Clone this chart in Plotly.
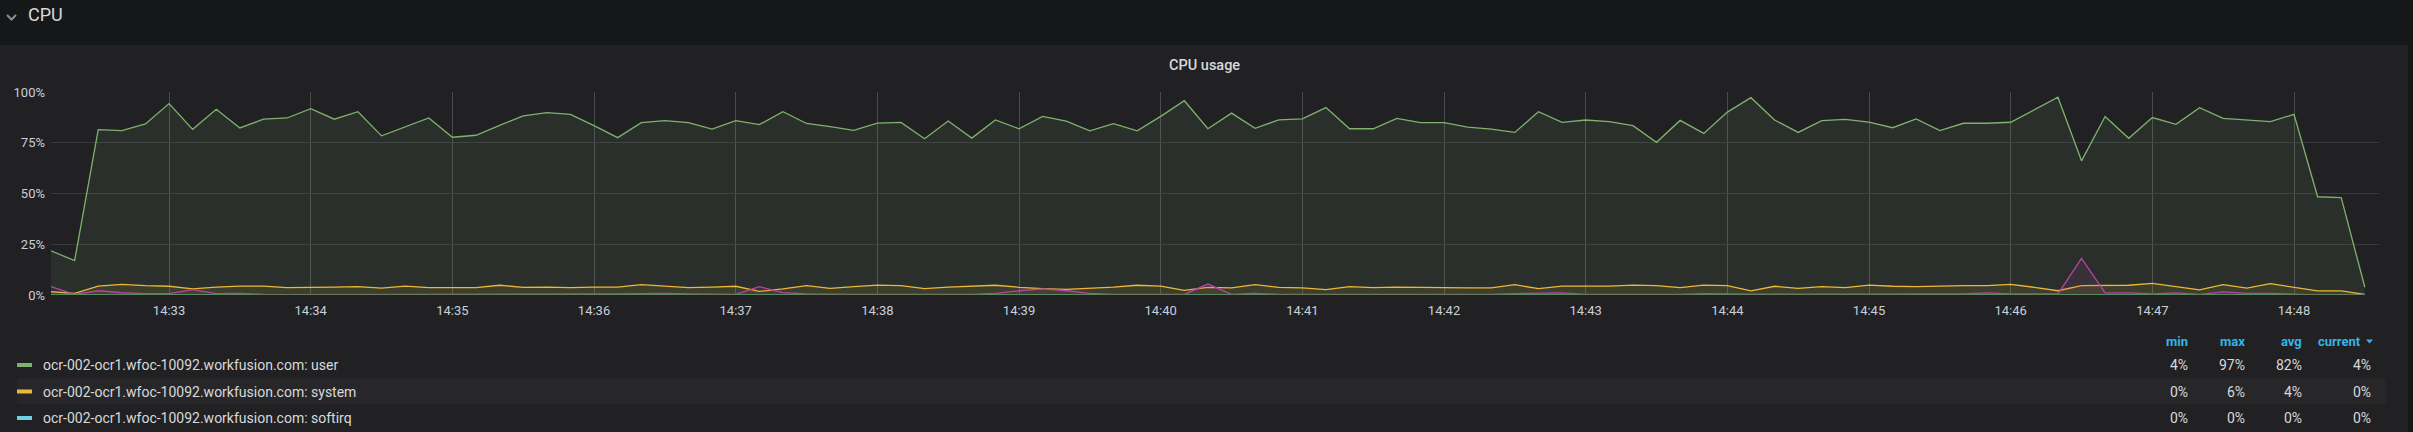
import pandas as pd
import plotly.graph_objects as go

# 10 s samples, 14:32:10 .. 14:48:30
times = pd.date_range("2020-01-01 14:32:10", periods=99, freq="10s")

host = "ocr-002-ocr1.wfoc-10092.workfusion.com"

user = [
    21.8, 16.9, 81.5, 81.0, 84.3, 94.3, 81.6, 91.5, 82.3, 86.6,
    87.2, 91.8, 86.6, 90.3, 78.4, 82.8, 87.2, 77.7, 78.7, 83.6,
    88.2, 89.8, 89.0, 83.4, 77.5, 84.9, 85.9, 84.9, 81.7, 85.9,
    83.9, 90.3, 84.5, 82.9, 81.1, 84.7, 85.0, 77.0, 85.7, 77.3,
    86.2, 81.9, 88.0, 85.7, 80.9, 84.4, 80.9, 88.0, 95.7, 81.9,
    89.6, 82.1, 86.3, 86.8, 92.3, 81.9, 81.9, 87.0, 84.9, 84.9,
    82.7, 81.7, 80.1, 90.3, 85.0, 86.2, 85.4, 83.4, 75.2, 86.0,
    79.6, 90.1, 97.2, 86.2, 80.1, 85.9, 86.5, 85.2, 82.4, 86.7,
    81.0, 84.6, 84.6, 85.1, 91.1, 97.4, 66.1, 87.9, 77.2, 87.4,
    84.1, 92.3, 87.0, 86.1, 85.4, 89.0, 48.4, 48.0, 3.8,
]
system = [
    1.6, 0.8, 4.4, 5.2, 4.6, 4.3, 3.0, 3.9, 4.4, 4.4,
    3.6, 3.6, 3.9, 4.1, 3.4, 4.4, 3.6, 3.6, 3.6, 4.8,
    3.8, 3.9, 3.6, 3.9, 3.9, 5.1, 4.4, 3.6, 3.9, 4.3,
    1.8, 3.0, 4.6, 3.3, 4.1, 4.9, 4.6, 3.1, 3.9, 4.3,
    4.8, 3.8, 3.1, 2.8, 3.3, 3.9, 4.8, 4.4, 2.3, 3.8,
    3.5, 5.1, 3.8, 3.5, 2.6, 4.1, 3.6, 3.9, 3.8, 3.5,
    3.5, 3.5, 5.1, 3.1, 4.4, 4.4, 4.4, 4.9, 4.6, 3.6,
    4.9, 4.6, 2.0, 4.3, 3.3, 4.1, 3.6, 4.9, 4.3, 4.1,
    4.4, 4.6, 4.6, 5.2, 3.8, 2.1, 4.6, 4.6, 4.8, 5.7,
    4.1, 2.5, 5.1, 3.4, 5.6, 3.8, 2.0, 2.0, 0.3,
]
softirq = [
    0, 0, 0, 0, 0, 0, 0, 0, 0, 0, 0, 0, 0, 0, 0, 0, 0, 0, 0, 0,
    0, 0, 0, 0, 0, 0, 0, 0, 0, 0, 0, 0, 0, 0, 0, 0, 0, 0, 0, 0,
    0, 0, 0, 0, 0, 0, 0, 0, 0, 0, 0, 0, 0, 0, 0, 0, 0, 0, 0, 0,
    0, 0, 0, 0, 0, 0, 0, 0, 0, 0, 0, 0, 0, 0, 0, 0, 0, 0, 0, 0,
    0, 0, 0, 0, 0, 0, 0, 0, 0, 0, 0, 0, 0, 0, 0, 0, 0, 0, 0,
]
# series below the visible legend rows (legend is scrolled)
iowait = [
    4.1, 0.3, 2.1, 1.1, 0.7, 0.7, 2.6, 0.7, 0.8, 0.3,
    0.2, 0.2, 0.2, 0.2, 0.2, 0.2, 0.2, 0.2, 0.3, 0.5,
    0.5, 0.5, 0.5, 0.5, 0.6, 0.8, 0.8, 0.5, 0.4, 0.3,
    4.1, 1.2, 0.5, 0.3, 0.3, 0.3, 0.3, 0.3, 0.3, 0.3,
    0.8, 2.1, 3.0, 2.1, 0.8, 0.3, 0.3, 0.3, 0.3, 5.4,
    0.3, 0.8, 0.3, 0.3, 0.3, 0.3, 0.3, 0.3, 0.3, 0.3,
    0.3, 0.3, 0.7, 0.8, 1.0, 0.3, 0.3, 0.3, 0.3, 0.3,
    0.7, 0.4, 0.4, 0.4, 0.3, 0.4, 0.4, 0.4, 0.3, 0.5,
    0.5, 0.5, 1.0, 0.5, 0.5, 0.5, 18.0, 1.0, 1.0, 0.5,
    1.0, 0.3, 1.5, 0.8, 0.8, 0.3, 0.1, 0.1, 0.1,
]
nice = softirq

y_ticks = [0, 25, 50, 75, 100]

series = [
    ("user", user, "#7EB26D", True),
    ("system", system, "#EAB839", True),
    ("softirq", softirq, "#6ED0E0", True),
    ("iowait", iowait, "#BA43A9", False),
    ("nice", nice, "#508642", False),
]

W, H = 2413, 432
L, R, T, B = 51, 34, 92, 137
PW, PH = W - L - R, H - T - B


def px(x):
    return (x - L) / PW


def py(y):
    return (H - B - y) / PH


def rgba(hex_color, alpha):
    h = hex_color.lstrip("#")
    r, g, b = (int(h[i:i + 2], 16) for i in (0, 2, 4))
    return f"rgba({r},{g},{b},{alpha})"


def label(x, y, text, anchor, size, color, weight="normal"):
    return dict(x=px(x), y=py(y), xref="paper", yref="paper", text=text, showarrow=False,
                xanchor=anchor, yanchor="middle",
                font=dict(size=size, color=color, weight=weight))


fig = go.Figure()
for name, vals, color, _ in series:
    fig.add_trace(go.Scatter(
        x=times, y=vals, mode="lines", name=f"{host}: {name}",
        line=dict(color=color, width=1.3), fill="tozeroy",
        fillcolor=rgba(color, 0.1), showlegend=False, hoverinfo="skip",
    ))

TEXT = "#d8d9da"
TICK = "#c7d0d9"
BLUE = "#33b5e5"

shapes = [
    # row header strip and page gutter
    dict(type="rect", xref="paper", yref="paper", x0=px(0), x1=px(W), y0=py(0), y1=py(45),
         fillcolor="#161719", line_width=0, layer="below"),
    dict(type="rect", xref="paper", yref="paper", x0=px(2408), x1=px(W), y0=py(0), y1=py(H),
         fillcolor="#161719", line_width=0, layer="below"),
    # collapse chevron
    dict(type="path", xref="paper", yref="paper",
         path=f"M {px(7)},{py(15)} L {px(11.5)},{py(19.5)} L {px(16)},{py(15)}",
         line=dict(color="#8e8e8e", width=2)),
    # highlighted legend row
    dict(type="rect", xref="paper", yref="paper", x0=px(17), x1=px(2386), y0=py(378), y1=py(404),
         fillcolor="#27272a", line_width=0, layer="below"),
    # sort arrow next to "current"
    dict(type="path", xref="paper", yref="paper",
         path=f"M {px(2366)},{py(339.5)} L {px(2373)},{py(339.5)} L {px(2369.5)},{py(343.5)} Z",
         fillcolor=BLUE, line_width=0),
]

annotations = [
    label(26, 15, "CPU", "left", 18, TEXT),
    label(1204, 65, "CPU usage", "center", 14.5, TEXT, 500),
]

stat_cols = [("min", 2190), ("max", 2247), ("avg", 2303.5), ("current", 2363)]
for name, xr in stat_cols:
    annotations.append(label(xr, 341, f"<b>{name}</b>", "right", 13, BLUE))

value_x = [2190, 2247, 2303.5, 2373]
row_y = [365, 391.5, 418]
legend_series = [s for s in series if s[3]]
for (name, vals, color, _), yr in zip(legend_series, row_y):
    shapes.append(dict(type="rect", xref="paper", yref="paper", x0=px(17), x1=px(32),
                       y0=py(yr - 2), y1=py(yr + 2), fillcolor=color, line_width=0))
    annotations.append(label(40.5, yr, f"{host}: {name}", "left", 14, TEXT))
    stats = [min(vals), max(vals), sum(vals) / len(vals), vals[-1]]
    for v, xr in zip(stats, value_x):
        annotations.append(label(xr, yr, f"{round(v)}%", "right", 14, TEXT))

fig.update_layout(
    width=W, height=H,
    margin=dict(l=L, r=R, t=T, b=B, pad=0),
    paper_bgcolor="#212124",
    plot_bgcolor="rgba(0,0,0,0)",
    font=dict(family="Roboto", color=TICK),
    shapes=shapes,
    annotations=annotations,
    showlegend=False,
    xaxis=dict(
        range=["2020-01-01 14:32:10", "2020-01-01 14:48:36"],
        tick0="2020-01-01 14:33:00", dtick=60000, tickformat="%H:%M",
        showgrid=True, gridcolor="#4a4b4d", gridwidth=1, zeroline=False,
        showline=False, ticks="", tickfont=dict(size=13, color=TICK),
        ticklabelstandoff=6,
    ),
    yaxis=dict(
        range=[0, 100], tickmode="array", tickvals=y_ticks,
        ticktext=[f"{v}%" for v in y_ticks],
        showgrid=True, gridcolor="#38393c", gridwidth=1, zeroline=False,
        showline=False, ticks="", tickfont=dict(size=13, color=TICK),
        ticklabelstandoff=5,
    ),
)

fig.write_html(
    "out.html",
    config={"displayModeBar": False},
    post_script="document.body.style.margin='0';document.body.style.background='#161719';",
)
